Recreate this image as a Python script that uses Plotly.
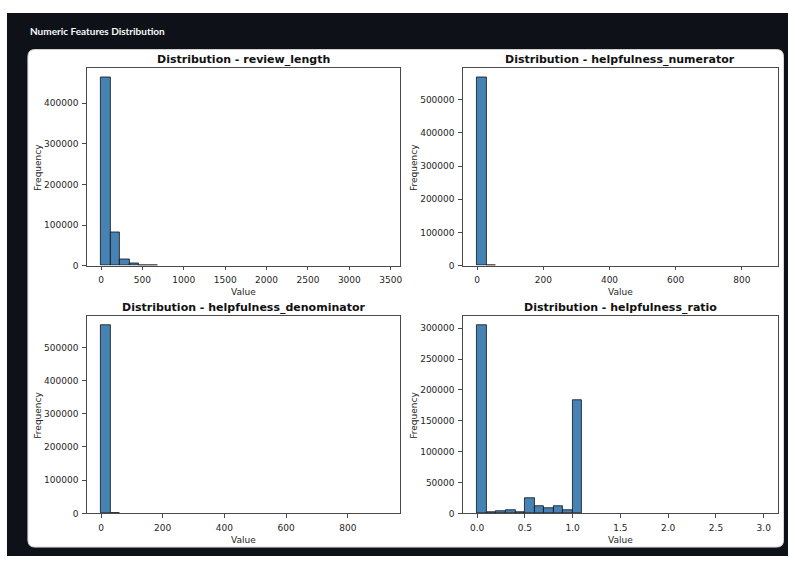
import numpy as np
import plotly.graph_objects as go

W, H = 790, 561

# ---------------- data ----------------
titles = [
    "Distribution - review_length",
    "Distribution - helpfulness_numerator",
    "Distribution - helpfulness_denominator",
    "Distribution - helpfulness_ratio",
]

review_length_range = [0, 3440]
review_length_counts = [463000, 81500, 16300, 4900, 1600, 500, 0, 0, 0, 0,
                        0, 0, 0, 0, 0, 0, 0, 0, 0, 0,
                        0, 0, 0, 0, 0, 0, 0, 0, 0, 0]

numerator_range = [0, 866]
numerator_counts = [566500, 1500, 0, 0, 0, 0, 0, 0, 0, 0,
                    0, 0, 0, 0, 0, 0, 0, 0, 0, 0,
                    0, 0, 0, 0, 0, 0, 0, 0, 0, 0]

denominator_range = [0, 923]
denominator_counts = [565800, 2000, 0, 0, 0, 0, 0, 0, 0, 0,
                      0, 0, 0, 0, 0, 0, 0, 0, 0, 0,
                      0, 0, 0, 0, 0, 0, 0, 0, 0, 0]

ratio_range = [0, 3]
ratio_counts = [304300, 2000, 4300, 6000, 2700, 24500, 11300, 8600, 11300, 5900,
                183000, 0, 0, 0, 0, 0, 0, 0, 0, 0,
                0, 0, 0, 0, 0, 0, 0, 0, 0, 0]

x_ticks = [
    [0, 500, 1000, 1500, 2000, 2500, 3000, 3500],
    [0, 200, 400, 600, 800],
    [0, 200, 400, 600, 800],
    [0.0, 0.5, 1.0, 1.5, 2.0, 2.5, 3.0],
]
x_ticklabels = [
    ["0", "500", "1000", "1500", "2000", "2500", "3000", "3500"],
    ["0", "200", "400", "600", "800"],
    ["0", "200", "400", "600", "800"],
    ["0.0", "0.5", "1.0", "1.5", "2.0", "2.5", "3.0"],
]
y_ticks = [
    [0, 100000, 200000, 300000, 400000],
    [0, 100000, 200000, 300000, 400000, 500000],
    [0, 100000, 200000, 300000, 400000, 500000],
    [0, 50000, 100000, 150000, 200000, 250000, 300000],
]

ranges = [review_length_range, numerator_range, denominator_range, ratio_range]
counts = [review_length_counts, numerator_counts, denominator_counts, ratio_counts]

# ---------------- layout helpers (pixel -> paper) ----------------
def px(x):
    return x / W

def py(y):
    return 1 - y / H

# axes boxes in pixels: (left, top, right, bottom)
boxes = [
    (87, 69, 401, 268),
    (464, 69, 780, 268),
    (87, 319, 401, 518),
    (464, 319, 780, 518),
]

fig = go.Figure()

BAR = "#4682B4"
TXT = "#262626"
FONT = "DejaVu Sans"

for i in range(4):
    lo, hi = ranges[i]
    c = np.array(counts[i], dtype=float)
    n = len(c)
    width = (hi - lo) / n
    centers = lo + width * (np.arange(n) + 0.5)
    keep = c > 0
    ax = "" if i == 0 else str(i + 1)
    fig.add_trace(go.Bar(
        x=centers[keep], y=c[keep], width=width,
        marker=dict(color=BAR, line=dict(color="#111111", width=0.8)),
        xaxis="x" + ax, yaxis="y" + ax, showlegend=False,
    ))
    l, t, r, b = boxes[i]
    span = hi - lo
    common = dict(
        showgrid=False, zeroline=False, showline=True, mirror=True,
        linecolor="#4a4a4a", linewidth=1, ticks="outside", ticklen=3.5,
        tickwidth=0.8, tickcolor="#4a4a4a", ticklabelstandoff=2,
        tickfont=dict(family=FONT, size=9, color=TXT),
    )
    fig.layout["xaxis" + ax] = dict(
        domain=[px(l), px(r)], anchor="y" + ax,
        range=[lo - 0.05 * span, hi + 0.05 * span],
        tickmode="array", tickvals=x_ticks[i], ticktext=x_ticklabels[i],
        **common,
    )
    fig.layout["yaxis" + ax] = dict(
        domain=[py(b), py(t)], anchor="x" + ax,
        range=[0, max(c) * 1.05],
        tickmode="array", tickvals=y_ticks[i],
        ticktext=[str(v) for v in y_ticks[i]],
        **common,
    )
    # subplot title
    fig.add_annotation(
        x=px((l + r) / 2), y=py(t - 9), xref="paper", yref="paper",
        text="<b>" + titles[i] + "</b>", showarrow=False,
        font=dict(family=FONT, size=11, color="#111111"),
        xanchor="center", yanchor="middle",
    )
    # x label
    fig.add_annotation(
        x=px((l + r) / 2), y=py(b + 27), xref="paper", yref="paper",
        text="Value", showarrow=False,
        font=dict(family=FONT, size=9, color=TXT),
        xanchor="center", yanchor="middle",
    )
    # y label
    fig.add_annotation(
        x=px(l - 49), y=py((t + b) / 2), xref="paper", yref="paper",
        text="Frequency", showarrow=False, textangle=-90,
        font=dict(family=FONT, size=9, color=TXT),
        xanchor="center", yanchor="middle",
    )

# page title
fig.add_annotation(
    x=px(28), y=py(31), xref="paper", yref="paper",
    text="<b>Numeric Features Distribution</b>", showarrow=False,
    font=dict(family="Lato", size=10, color="#fafafa"),
    xanchor="left", yanchor="middle",
)

# dark app background and white card
x0, y0, x1, y1, rr = 28, 50, 785.5, 552, 7
card_path = (
    f"M {px(x0 + rr)},{py(y0)} L {px(x1 - rr)},{py(y0)} "
    f"Q {px(x1)},{py(y0)} {px(x1)},{py(y0 + rr)} "
    f"L {px(x1)},{py(y1 - rr)} Q {px(x1)},{py(y1)} {px(x1 - rr)},{py(y1)} "
    f"L {px(x0 + rr)},{py(y1)} Q {px(x0)},{py(y1)} {px(x0)},{py(y1 - rr)} "
    f"L {px(x0)},{py(y0 + rr)} Q {px(x0)},{py(y0)} {px(x0 + rr)},{py(y0)} Z"
)
fig.update_layout(shapes=[
    dict(type="rect", xref="paper", yref="paper", x0=px(7), y0=0, x1=1, y1=py(13),
         fillcolor="#0e1117", line=dict(width=0), layer="below"),
    dict(type="path", xref="paper", yref="paper", path=card_path,
         fillcolor="#ffffff", line=dict(color="#d6d6d6", width=1), layer="below"),
])

fig.update_layout(
    width=W, height=H, autosize=False,
    margin=dict(l=0, r=0, t=0, b=0),
    paper_bgcolor="#ffffff", plot_bgcolor="#ffffff",
    bargap=0, showlegend=False,
)

fig.write_html(
    "out.html",
    config={"displayModeBar": False},
    post_script="document.body.style.margin='0';document.body.style.overflow='hidden';",
)
